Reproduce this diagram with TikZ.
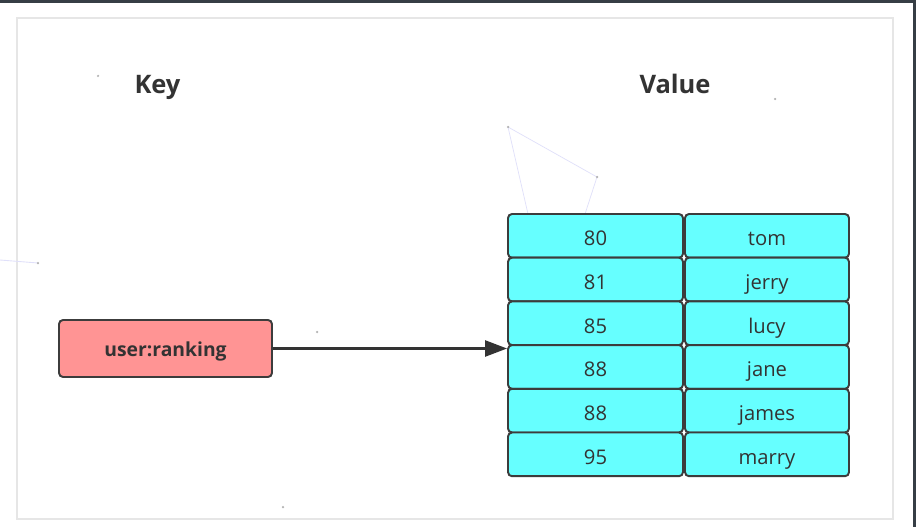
\documentclass[tikz,border=0pt]{standalone}
\usepackage{fontspec}
\setmainfont{Open Sans}
\usetikzlibrary{arrows.meta}
\definecolor{ink}{HTML}{333333}
\definecolor{edge}{HTML}{3C3C3C}
\definecolor{cyanfill}{HTML}{66FFFF}
\definecolor{keyfill}{HTML}{FF9494}
\definecolor{frame}{HTML}{E6E6E6}
\definecolor{bar}{HTML}{363E45}
\definecolor{dust}{HTML}{E0E0FA}

\begin{document}
\begin{tikzpicture}[x=0.02cm, y=-0.02cm, font=\fontsize{11.5}{14}\selectfont,
    cell/.style={draw=edge, line width=1.1pt, fill=cyanfill, rounded corners=0.08cm,
      minimum height=0.874cm, inner sep=0pt, text height=0.5cm, text depth=0.1cm, text=ink},
    head/.style={font=\fontsize{14.5}{17}\selectfont\bfseries, text=ink, anchor=base}]
    \useasboundingbox (0,0) rectangle (916,527);
    \fill[white](0,0)rectangle(916,527);
    \fill[bar](0,0)rectangle(916,3);\fill[bar](913,0)rectangle(916,527);
    \draw[frame, line width=0.8pt](17,18)rectangle(893,519);
    % faint background specks
    \draw[dust, line width=0.4pt](508,127)--(597,177)--(585,214);\draw[dust, line width=0.4pt](508,127)--(528,214);
    \draw[dust, line width=0.5pt](0,260)--(38,263);
    \foreach \p in {(508,127),(597,177),(38,263),(98,76),(775,99),(317,332),(283,507)}
      \fill[gray!60]\p circle(0.025cm);
    \node[head] (key) at (157.5,93) {Key};
    \node[head] (value) at (675,93) {Value};
    \node[draw=edge, line width=1.1pt, fill=keyfill, rounded corners=0.08cm, minimum width=4.26cm,
      minimum height=1.14cm, inner sep=0pt, text height=0.4cm, text depth=0.1cm, text=ink,
      font=\fontsize{11}{13}\selectfont\bfseries] (rank) at (165.5,348.5) {user:ranking};
    \foreach \s/\n [count=\i] in {80/tom,81/jerry,85/lucy,88/jane,88/james,95/marry}{
      \node[cell, minimum width=3.5cm] (s\i) at (595.5,{235.85+(\i-1)*43.7}) {\s};
      \node[cell, minimum width=3.28cm] (n\i) at (767,{235.85+(\i-1)*43.7}) {\n};
    }
    \draw[ink, line width=1.4pt, -{Triangle[length=0.44cm,width=0.32cm]}](rank.east)--(rank.east -| s3.west);
  \end{tikzpicture}
\end{document}
